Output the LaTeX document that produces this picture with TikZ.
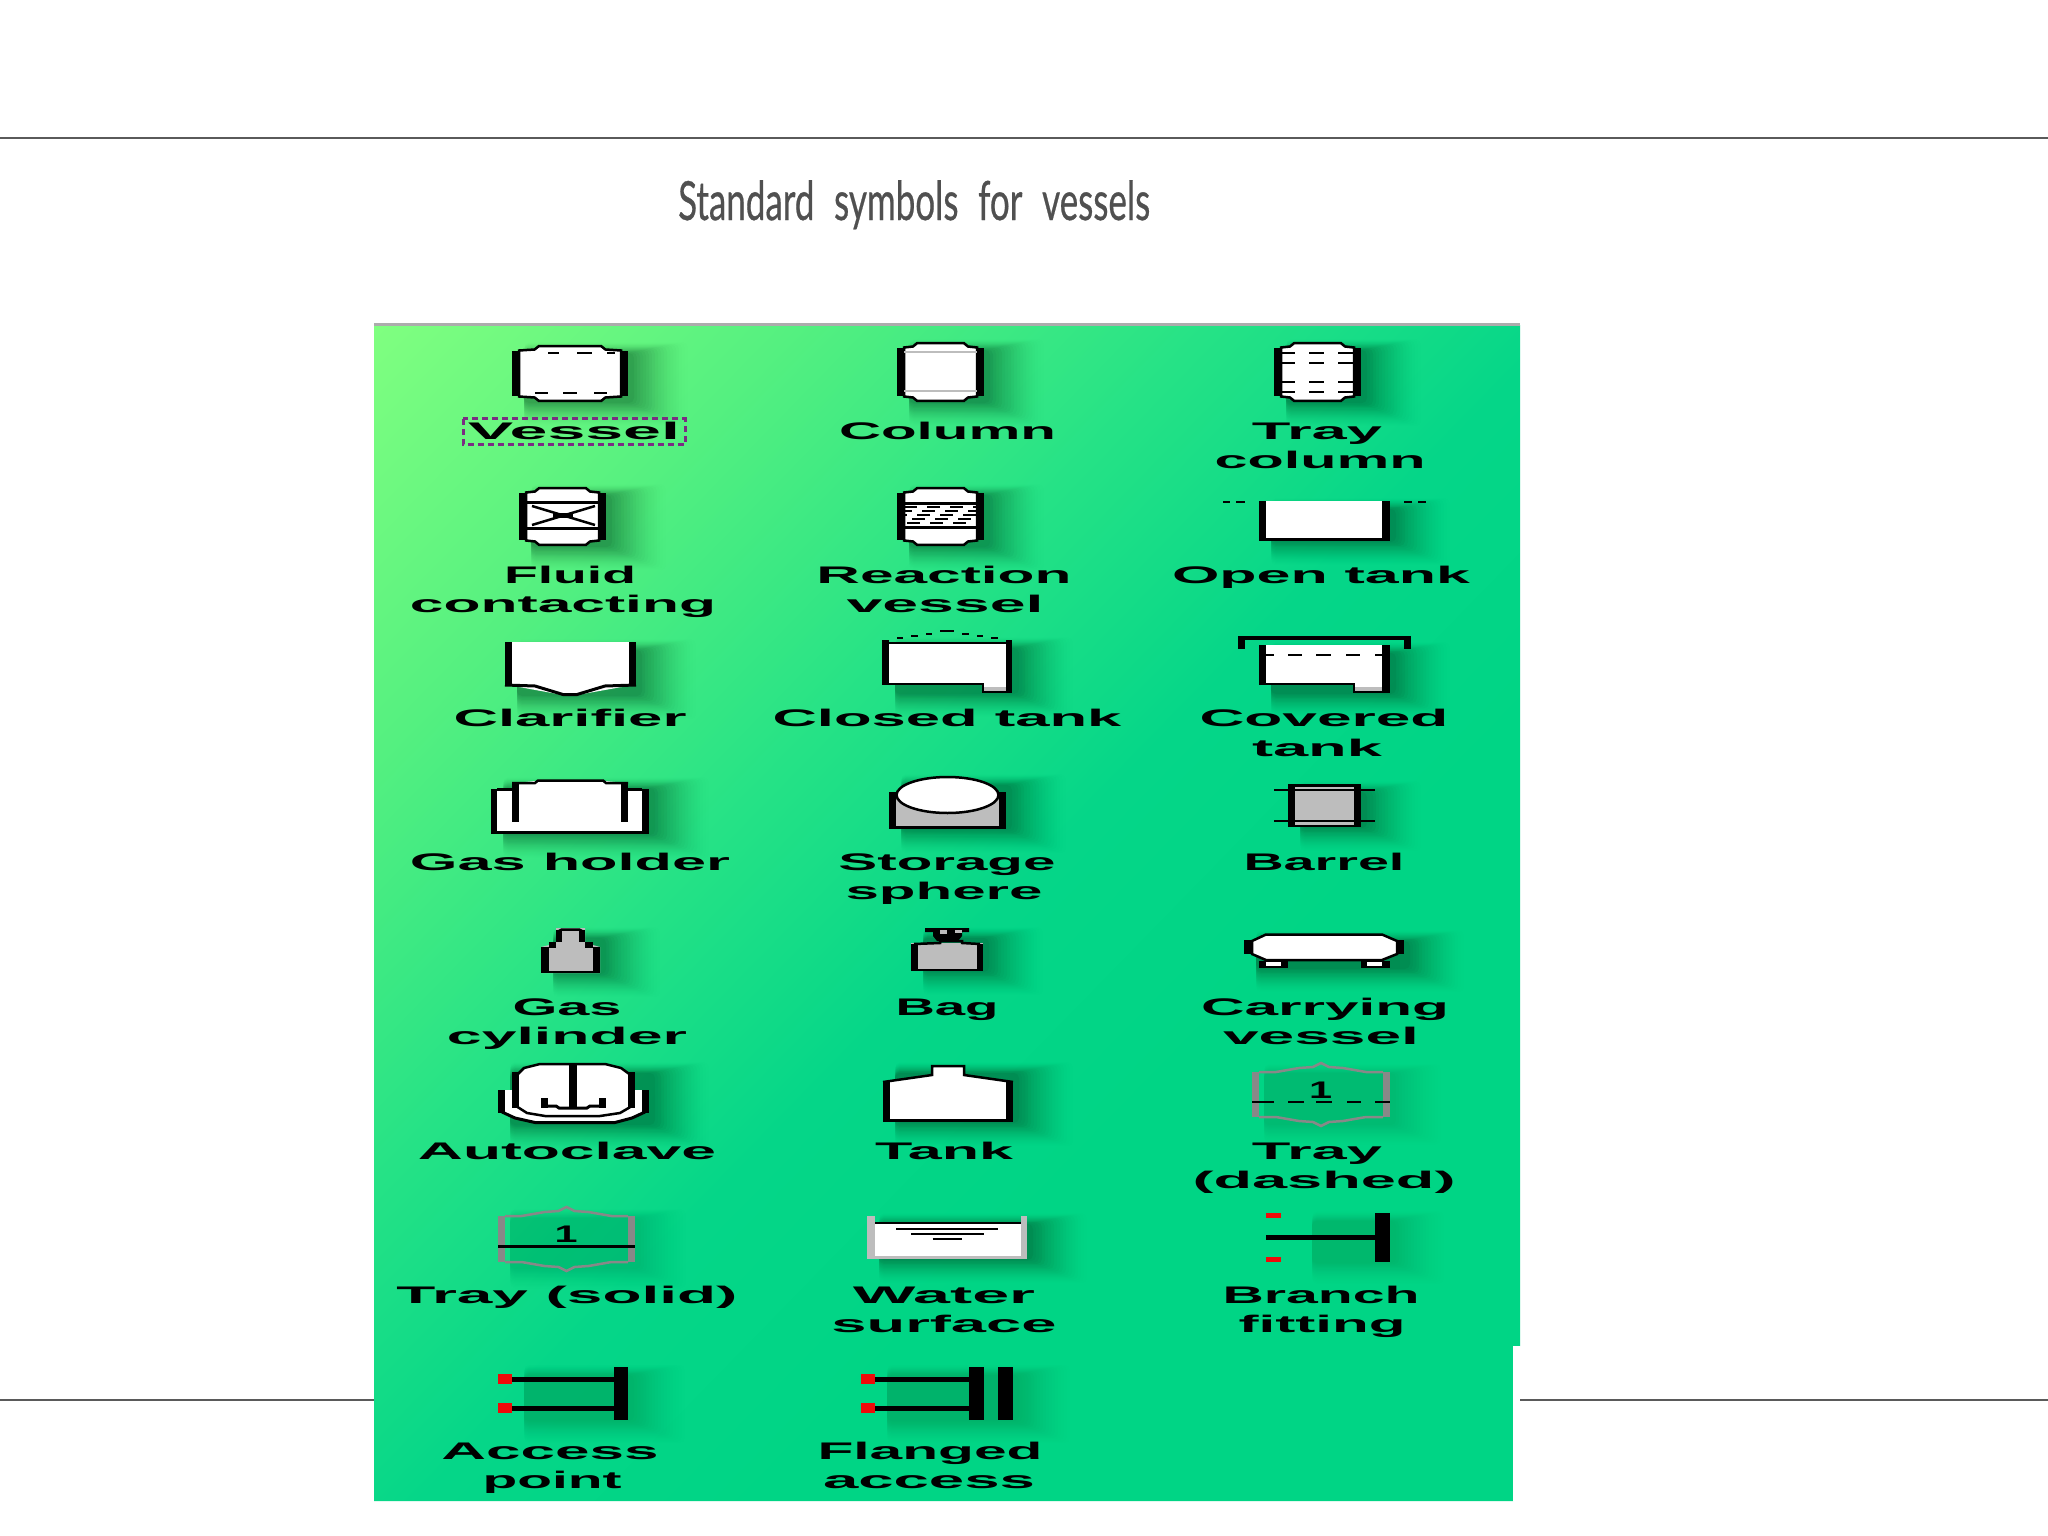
\documentclass[tikz,border=0pt]{standalone}
\usepackage{fontspec}
\usepackage{graphicx}
\setmainfont{Liberation Sans}
\newfontfamily\titlef[WordSpace=2.2,FakeBold=0.6]{Lato}
\definecolor{gzero}{HTML}{80FF80}
\definecolor{gone}{HTML}{55F080}
\definecolor{gtwo}{HTML}{25E286}
\definecolor{gthree}{HTML}{05D688}
\definecolor{gfour}{HTML}{00D585}
\definecolor{shadowc}{HTML}{004020}
\definecolor{midgrey}{HTML}{BDBDBD}
\definecolor{traygrey}{HTML}{888888}
\definecolor{selpurple}{HTML}{7A2C82}
\definecolor{rulec}{HTML}{5A5A5A}
\definecolor{titlec}{HTML}{505050}
\definecolor{redtip}{HTML}{F00A0A}
\pgfdeclarehorizontalshading{greenbg}{4000bp}{color(0bp)=(gzero); color(300bp)=(gone); color(600bp)=(gtwo); color(850bp)=(gthree); color(1100bp)=(gfour); color(3000bp)=(gfour)}
\newcommand\softshadow[5][.014]{\foreach \k in {0,...,18}{\pgfmathsetmacro\oo{#1*(19-\k)/5}\fill[shadowc,fill opacity=\oo,rounded corners=5pt] ({#2+12},{#3+8-.6*\k}) rectangle ({#4+6+3*\k},{#5+1+1.3*\k});}}
\newcommand\lab[5]{\node[labelnode] (#1) at (#2,{#3+1}) {\resizebox{#4pt}{\height}{\fontsize{24}{28}\selectfont\bfseries #5}};}
\newcommand\vess[4]{%
  \pgfmathsetmacro\dd{.23*(#2-#1)}
  \filldraw[fill=white,draw=black,line width=2.5pt,line join=miter] ({#1+7},{#3+7})--({#1+7},{#3+5.5})--({#1+\dd-4},{#3+4.5})--({#1+\dd},{#3+1.2})--({#2-\dd},{#3+1.2})--({#2-\dd+4},{#3+4.5})--({#2-7},{#3+5.5})--({#2-7},{#3+7})--({#2-7},{#4-7})--({#2-7},{#4-5.5})--({#2-\dd+4},{#4-4.5})--({#2-\dd},{#4-1.2})--({#1+\dd},{#4-1.2})--({#1+\dd-4},{#4-4.5})--({#1+7},{#4-5.5})--cycle;
  \fill ({#1},{#3+6}) rectangle ({#1+7},{#4-6});
  \fill ({#2-7},{#3+6}) rectangle ({#2},{#4-6});}
\newcommand\trayhex[5]{%
  \draw[traygrey,line width=2.5pt] ({#1+7},{#3})--({(#1+#2)/2-45},{#3})--({(#1+#2)/2-22},{#3-4})--({(#1+#2)/2-8},{#3-5})--({(#1+#2)/2},{#3-9})--({(#1+#2)/2+8},{#3-5})--({(#1+#2)/2+22},{#3-4})--({(#1+#2)/2+45},{#3})--({#2-7},{#3});
  \draw[traygrey,line width=2.5pt] ({#1+7},{#4})--({(#1+#2)/2-45},{#4})--({(#1+#2)/2-22},{#4+4})--({(#1+#2)/2-8},{#4+5})--({(#1+#2)/2},{#4+9})--({(#1+#2)/2+8},{#4+5})--({(#1+#2)/2+22},{#4+4})--({(#1+#2)/2+45},{#4})--({#2-7},{#4});
  \fill[traygrey] ({#1},{#3}) rectangle ({#1+7},{#4});
  \fill[traygrey] ({#2-7},{#3}) rectangle ({#2},{#4});}
\tikzset{
  labelnode/.style={anchor=base,inner sep=0pt,outer sep=0pt,text=black},
  thin line/.style={line width=2.5pt,black},
}
\begin{document}
\begin{tikzpicture}[x=1pt,y=-1pt]
\useasboundingbox (0,0) rectangle (2048,1536);
\fill[white] (0,0) rectangle (2048,1536);
% rules
\coordinate (ruleTL) at (0,138); \coordinate (ruleTR) at (2048,138);
\coordinate (ruleBL) at (0,1399.5); \coordinate (ruleBR) at (2048,1399.5);
\draw[rulec,line width=2pt] (ruleTL) -- (ruleTR);
\draw[rulec,line width=2pt] (ruleBL) -- (ruleBR);
% title
\node[anchor=base west,inner sep=0pt,text=titlec] (title) at (678,220) {\resizebox{472pt}{\height}{\fontsize{54}{60}\selectfont\titlef Standard symbols for vessels}};
% green panel
\begin{scope}
\clip (374,325)--(1520,325)--(1520,1346)--(1513,1346)--(1513,1501)--(374,1501)--cycle;
\node[inner sep=0pt,outer sep=0pt,anchor=west,rotate=-44.3,transform shape] (panel) at (374,325) {\pgfuseshading{greenbg}};
\end{scope}
\fill[white] (1513,1346) rectangle (1520,1501);
\fill[rulec!50!white] (374,323) rectangle (1520,326);
% soft shadows
\softshadow{512}{345}{628}{402}
\softshadow{897}{342}{984}{402}
\softshadow{1274}{342}{1361}{402}
\softshadow{519}{487}{606}{546}
\softshadow{897}{487}{984}{546}
\softshadow{1259}{501}{1390}{541}
\softshadow{505}{642}{636}{695}
\softshadow{883}{640}{1013}{693}
\softshadow{1259}{645}{1390}{693}
\softshadow{491}{780}{649}{834}
\softshadow{889}{777}{1006}{829}
\softshadow{1288}{784}{1361}{827}
\softshadow{541}{930}{600}{973}
\softshadow{911}{930}{983}{971}
\softshadow{1244}{933}{1404}{968}
\softshadow{498}{1065}{649}{1124}
\softshadow{883}{1065}{1013}{1122}
\softshadow[.003]{1252}{1065}{1390}{1124}
\softshadow[.003]{498}{1210}{635}{1268}
\softshadow{867}{1216}{1027}{1259}
\softshadow[.004]{1300}{1213}{1390}{1262}
\softshadow[.005]{512}{1367}{628}{1420}
\softshadow[.005]{875}{1367}{1013}{1420}
% Vessel
\vess{512}{628}{345}{402}
\draw[thin line] (548,353)--(559,353) (577,353)--(592,353) (607,353)--(615,353);
\draw[thin line] (535,393)--(548,393) (563,393)--(577,393) (594,393)--(607,393);
% Column
\vess{897}{984}{342}{402}
\draw[midgrey,line width=2pt] (904,352)--(977,352) (904,391)--(977,391);
% Tray column
\vess{1274}{1361}{342}{402}
\foreach \yy in {353,363,382,392}{\draw[thin line] (1281,\yy)--(1295,\yy) (1309,\yy)--(1324,\yy) (1338,\yy)--(1354,\yy);}
% Fluid contacting
\vess{519}{606}{487}{546}
\draw[line width=3pt] (527,502.5)--(600,502.5) (527,528)--(600,528);
\draw[line width=2.5pt] (532,506)--(595,525) (532,525)--(595,506);
\fill (553,513) rectangle (573,518);
% Reaction vessel
\vess{897}{984}{487}{546}
\draw[line width=3pt] (904,503)--(977,503) (904,527)--(977,527);
\foreach \yy/\off in {507/0,511/5,515/10,519/15,523/20}{\draw[line width=2.2pt,dash pattern=on 13pt off 10pt,dash phase=\off pt] (904,\yy)--(977,\yy);}
% Open tank
\filldraw[fill=white,draw=none] (1262,501) rectangle (1386,539);
\fill (1259,501) rectangle (1266,541);
\fill (1382,501) rectangle (1390,541);
\fill (1259,538) rectangle (1390,541);
\draw[thin line] (1223,502)--(1230,502) (1236,502)--(1245,502) (1404,502)--(1412,502) (1418,502)--(1426,502);
% Clarifier
\fill[white] (508,642)--(633,642)--(633,685)--(577,695)--(563,695)--(508,685)--cycle;
\draw[line width=3pt] (505,685)--(535,686)--(563,694.5)--(577,694.5)--(605,686)--(636,685);
\fill (505,642) rectangle (512,686);
\fill (629,642) rectangle (636,686);
% Closed tank
\fill[white] (886,643) rectangle (1010,685);
\fill[white] (983,684) rectangle (1006,687);
\fill[midgrey] (983,687) rectangle (1006,691);
\fill (882,640) rectangle (889,685);
\fill (1006,640) rectangle (1012,693);
\draw[line width=2.5pt] (889,643)--(1006,643);
\draw[line width=2.5pt] (889,684)--(983,684)--(983,692)--(1006,692);
\draw[thin line] (897,638)--(903,638) (911,636)--(918,636) (926,634)--(932,634) (940,631)--(954,631) (962,634)--(969,634) (977,636)--(983,636) (991,638)--(998,638);
% Covered tank
\fill[white] (1262,645) rectangle (1386,685);
\fill[white] (1354,684) rectangle (1382,687);
\fill[midgrey] (1354,687) rectangle (1382,691);
\fill (1259,645) rectangle (1266,685);
\fill (1382,645) rectangle (1390,693);
\draw[line width=2.5pt] (1266,684)--(1354,684)--(1354,692)--(1382,692);
\draw[line width=3.5pt] (1238,638)--(1411,638);
\fill (1238,637) rectangle (1245,649);
\fill (1404,637) rectangle (1411,649);
\draw[thin line] (1266,655)--(1274,655) (1288,655)--(1302,655) (1316,655)--(1331,655) (1346,655)--(1360,655) (1375,655)--(1382,655);
% Gas holder
\fill[white] (494,789) rectangle (646,832);
\fill[white] (516,783)--(535,781)--(605,781)--(625,783)--(625,800)--(516,800)--cycle;
\fill (491,789) rectangle (497,834);
\fill (642,789) rectangle (649,834);
\fill (491,831) rectangle (649,834);
\draw[thin line] (497,789.5)--(512,789.5) (628,789.5)--(642,789.5);
\draw[thin line] (512,783)--(535,783)--(538,780.5)--(603,780.5)--(606,783)--(628,783);
\fill (512,782) rectangle (519,822);
\fill (621,782) rectangle (628,822);
% Storage sphere
\fill[midgrey] (889,795) rectangle (1006,829);
\filldraw[fill=white,draw=black,line width=2.5pt] (947.5,795) ellipse [x radius=51,y radius=18];
\fill (889,792) rectangle (896,829);
\fill (999,792) rectangle (1006,829);
\fill (889,826) rectangle (1006,829);
% Barrel
\fill[midgrey] (1288,784) rectangle (1361,827);
\fill (1288,784) rectangle (1295,827);
\fill (1354,784) rectangle (1361,827);
\fill (1288,784) rectangle (1361,786.5);
\fill (1288,825) rectangle (1361,827);
\draw[line width=2.5pt] (1274,790)--(1375,790) (1274,821)--(1375,821);
% Gas cylinder
\filldraw[fill=midgrey,draw=none] (541,947)--(549,945)--(556,942)--(556,928)--(585,928)--(585,942)--(593,945)--(600,947)--(600,973)--(541,973)--cycle;
\draw[line width=2.5pt] (559,931)--(562,929.5)--(579,929.5)--(582,931);
\fill (556,930) rectangle (562,942);
\fill (579,930) rectangle (585,942);
\fill (549,942) rectangle (556,948);
\fill (585,942) rectangle (593,948);
\fill (541,947) rectangle (549,973);
\fill (593,947) rectangle (600,973);
\fill (541,970.5) rectangle (600,973);
% Bag
\fill[midgrey] (911,943) rectangle (983,971);
\fill (911,944) rectangle (918,971);
\fill (977,944) rectangle (983,971);
\fill (911,969) rectangle (983,971);
\draw[line width=2.5pt] (914,944)--(940,943)--(940,941)--(962,941)--(962,943)--(980,944);
\fill (925,928) -- (969,928) -- (969,932) -- (962,932) -- (962,936) -- (958,941) -- (937,941) -- (933,936) -- (933,932) -- (925,932) -- cycle;
\fill[midgrey] (940,930) rectangle (947,934);
\fill[midgrey] (955,930) rectangle (962,932.5);
% Carrying vessel
\filldraw[fill=white,draw=black,line width=2.5pt] (1252,941)--(1266,934.5)--(1382,934.5)--(1397,941)--(1397,954)--(1382,960)--(1266,960)--(1252,954)--cycle;
\fill (1244,940) rectangle (1252,954);
\fill (1397,940) rectangle (1404,954);
\fill (1259,961) rectangle (1288,968);
\fill (1361,961) rectangle (1390,968);
\fill[white] (1266,962) rectangle (1281,966);
\fill[white] (1367,962) rectangle (1382,966);
% Autoclave
\filldraw[fill=white,draw=none] (502,1090)--(645,1090)--(645,1112)--(632,1118)--(615,1122.5)--(535,1122.5)--(515,1118)--(502,1112)--cycle;
\draw[line width=3pt] (502,1112)--(515,1118)--(535,1122.5)--(615,1122.5)--(632,1118)--(645,1112);
\fill (498,1090) rectangle (505,1113);
\fill (642,1090) rectangle (649,1113);
\filldraw[fill=white,draw=black,line width=2.5pt] (516,1076)--(524,1068)--(540,1064)--(605,1064)--(621,1068)--(632,1076)--(632,1106)--(620,1113)--(600,1116)--(545,1116)--(527,1113)--(516,1106)--cycle;
\fill (512,1072) rectangle (519,1108);
\fill (628,1072) rectangle (635,1108);
\fill (569,1065) rectangle (577,1108);
\draw[line width=3pt] (544.5,1098)--(544.5,1106)--(556,1106)--(559,1108)--(587,1108)--(590,1106)--(602.5,1106)--(602.5,1098);
\fill (541,1098) rectangle (548,1108);
\fill (599,1098) rectangle (606,1108);
% Tank
\fill[white] (886,1082)--(932,1075)--(932,1066)--(964,1066)--(964,1075)--(1010,1082)--(1010,1121)--(886,1121)--cycle;
\draw[line width=2.5pt] (883,1082)--(925,1076)--(932,1075)--(932,1066)--(964,1066)--(964,1075)--(1013,1082);
\fill (883,1082) rectangle (890,1122);
\fill (1006,1082) rectangle (1013,1122);
\fill (883,1119) rectangle (1013,1122);
% Tray dashed
\trayhex{1252}{1390}{1072}{1117}{}
\draw[line width=2.5pt] (1252,1102)--(1274,1102) (1288,1102)--(1304,1102) (1316,1102)--(1332,1102) (1347,1102)--(1361,1102) (1375,1102)--(1390,1102);
% Tray solid
\trayhex{498}{635}{1216}{1262}{}
\draw[line width=3pt] (498,1246)--(635,1246);
% Water surface
\fill[white] (875,1222) rectangle (1021,1256);
\fill[midgrey] (867,1216) rectangle (875,1259);
\fill[midgrey] (1021,1216) rectangle (1027,1259);
\fill[midgrey] (867,1256) rectangle (1027,1259);
\draw[line width=2.5pt] (875,1223)--(1021,1223) (896,1229)--(998,1229) (911,1234)--(984,1234) (932.5,1239)--(962,1239);
% Branch fitting
\fill (1375,1213) rectangle (1390,1262);
\draw[line width=5pt] (1266,1237)--(1375,1237);
\fill[redtip] (1266,1213) rectangle (1281,1218);
\fill[redtip] (1266,1257) rectangle (1281,1262);
% Access point
\fill (614,1367) rectangle (628,1420);
\draw[line width=5pt] (512,1379)--(614,1379) (512,1408)--(614,1408);
\fill[redtip] (498,1374) rectangle (512,1384);
\fill[redtip] (498,1403) rectangle (512,1413);
% Flanged access
\fill (969,1367) rectangle (984,1420);
\fill (998,1367) rectangle (1013,1420);
\draw[line width=5pt] (875,1379)--(969,1379) (875,1408)--(969,1408);
\fill[redtip] (861,1374) rectangle (875,1384);
\fill[redtip] (861,1403) rectangle (875,1413);
% labels
\draw[selpurple,line width=3pt,dash pattern=on 6pt off 4pt] (463,418.5) rectangle (685,444);
\lab{lVessel}{574}{438}{212}{Vessel}
\lab{lColumn}{947.5}{438}{217}{Column}
\lab{lTrayA}{1317}{438}{130}{Tray}
\lab{lTrayB}{1320}{467}{211}{column}
\lab{lFluid}{570}{582}{132}{Fluid}
\lab{lCont}{563}{611}{306}{contacting}
\lab{lReact}{944}{582}{255}{Reaction}
\lab{lVesB}{945}{611}{197}{vessel}
\lab{lOpen}{1321}{582}{298}{Open tank}
\lab{lClar}{570}{725}{233}{Clarifier}
\lab{lClosed}{947}{725}{349}{Closed tank}
\lab{lCov}{1324}{725}{249}{Covered}
\lab{lCovB}{1317}{755}{130}{tank}
\lab{lGash}{570}{869}{320}{Gas holder}
\lab{lStor}{947}{869}{217}{Storage}
\lab{lSph}{944}{898}{197}{sphere}
\lab{lBarrel}{1324}{869}{161}{Barrel}
\lab{lGas}{567}{1014}{109}{Gas}
\lab{lCyl}{567}{1043}{240}{cylinder}
\lab{lBag}{947}{1014}{103}{Bag}
\lab{lCarr}{1325}{1014}{248}{Carrying}
\lab{lCarB}{1321}{1043}{196}{vessel}
\lab{lAuto}{567}{1158}{298}{Autoclave}
\lab{lTank}{944}{1158}{138}{Tank}
\lab{lTrayD}{1317}{1158}{130}{Tray}
\lab{lDash}{1324}{1187}{263}{(dashed)}
\lab{lTrayS}{567}{1302}{341}{Tray (solid)}
\lab{lWater}{944}{1302}{182}{Water}
\lab{lSurf}{944}{1331}{225}{surface}
\lab{lBranch}{1321}{1302}{197}{Branch}
\lab{lFit}{1322}{1331}{167}{fitting}
\lab{lAcc}{550}{1458}{217}{Access}
\lab{lPoint}{552}{1487}{139}{point}
\lab{lFlan}{930}{1458}{225}{Flanged}
\lab{lAcB}{929}{1487}{212}{access}
\lab{lOneD}{1320.5}{1097}{23}{1}
\lab{lOneS}{566}{1241}{23}{1}
\end{tikzpicture}
\end{document}
